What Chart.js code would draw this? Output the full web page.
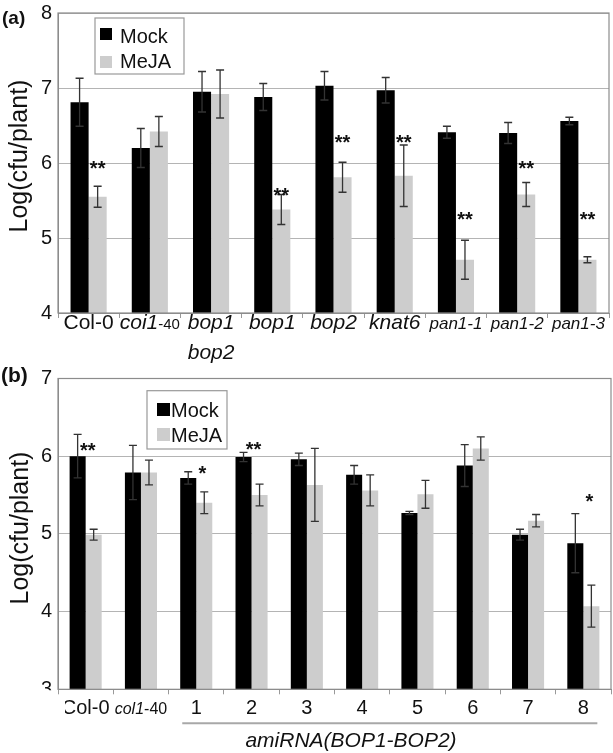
<!DOCTYPE html>
<html>
<head>
<meta charset="utf-8">
<script src="https://cdn.jsdelivr.net/npm/chart.js@4"></script>
<style>
  html, body { margin: 0; padding: 0; background: #fff; }
  #wa { position: absolute; left: 0; top: 0; width: 613px; height: 364px; }
  #wb { position: absolute; left: 0; top: 364px; width: 613px; height: 389px; }
</style>
</head>
<body>
<div id="wa"><canvas id="ca"></canvas></div>
<div id="wb"><canvas id="cb"></canvas></div>
<script>
// ---- Panel (a): bacterial growth, Mock vs MeJA pre-treatment ----
const genotypesA = ['Col-0', 'coi1-40', 'bop1 bop2', 'bop1', 'bop2', 'knat6', 'pan1-1', 'pan1-2', 'pan1-3'];
const mockA      = [6.81, 6.20, 6.95, 6.88, 7.03, 6.97, 6.41, 6.40, 6.56];
const mockErrA   = [0.32, 0.26, 0.27, 0.18, 0.19, 0.17, 0.08, 0.14, 0.05];
const mejaA      = [5.55, 6.42, 6.92, 5.38, 5.81, 5.83, 4.71, 5.58, 4.71];
const mejaErrA   = [0.14, 0.20, 0.32, 0.20, 0.20, 0.41, 0.26, 0.16, 0.04];
const sigA       = ['**', '', '', '**', '**', '**', '**', '**', '**'];
const sigLevelA  = [6.00, 0, 0, 5.64, 6.35, 6.35, 5.32, 6.00, 5.32];
const yTicksA    = [4, 5, 6, 7, 8];

// ---- Panel (b): amiRNA(BOP1-BOP2) lines ----
const genotypesB = ['Col-0', 'col1-40', '1', '2', '3', '4', '5', '6', '7', '8'];
const mockB      = [6.00, 5.79, 5.72, 5.99, 5.96, 5.76, 5.27, 5.88, 4.99, 4.88];
const mockErrB   = [0.28, 0.35, 0.08, 0.06, 0.08, 0.12, 0.02, 0.27, 0.07, 0.38];
const mejaB      = [4.99, 5.79, 5.40, 5.50, 5.63, 5.56, 5.51, 6.10, 5.17, 4.07];
const mejaErrB   = [0.07, 0.16, 0.14, 0.14, 0.47, 0.20, 0.18, 0.15, 0.08, 0.27];
const sigB       = ['**', '', '*', '**', '', '', '', '', '', '*'];
const sigLevelB  = [6.14, 0, 5.85, 6.16, 0, 0, 0, 0, 0, 5.49];
const yTicksB    = [3, 4, 5, 6, 7];
const groupLabelB = 'amiRNA(BOP1-BOP2)';

const seriesNames = ['Mock', 'MeJA'];
const seriesColors = ['#000000', '#cdcdcd'];

const FAM = '"Liberation Sans", Arial, Helvetica, sans-serif';
const fnt = (size, style) => (style ? style + ' ' : '') + size + 'px ' + FAM;

// Draw a line of text made of differently styled pieces, centred on cx.
function drawSegs(ctx, segs, cx, base) {
  let w = 0;
  segs.forEach(s => { ctx.font = s.font; w += ctx.measureText(s.text).width; });
  let x = cx - w / 2;
  ctx.textAlign = 'left';
  ctx.textBaseline = 'alphabetic';
  segs.forEach(s => { ctx.font = s.font; ctx.fillText(s.text, x, base); x += ctx.measureText(s.text).width; });
}

// Genotype names are italic; wild type and line numbers are upright; allele suffix is small.
function labelLinesA(label) {
  if (label === 'Col-0') return [[{ text: label, font: fnt(21) }]];
  if (label.endsWith('-40')) return [[{ text: label.slice(0, -3), font: fnt(21, 'italic') }, { text: '-40', font: fnt(15) }]];
  if (label.startsWith('pan1')) return [[{ text: label, font: fnt(17, 'italic') }]];
  return label.split(' ').map(w => [{ text: w, font: fnt(21, 'italic') }]);
}
function labelLinesB(label) {
  if (label.endsWith('-40')) return [[{ text: label.slice(0, -3), font: fnt(16, 'italic') }, { text: '-40', font: fnt(16) }]];
  return [[{ text: label, font: fnt(20) }]];
}

const panelPlugin = {
  id: 'panel',
  afterDraw(chart, args, o) {
    const { ctx, chartArea: ca, scales: { x, y } } = chart;
    ctx.save();

    // plot frame
    ctx.strokeStyle = '#8c8c8c';
    ctx.lineWidth = 1.2;
    ctx.strokeRect(ca.left, ca.top, ca.right - ca.left, ca.bottom - ca.top);

    // error bars
    ctx.strokeStyle = '#333';
    ctx.lineWidth = 1.3;
    chart.data.datasets.forEach((ds, d) => {
      const meta = chart.getDatasetMeta(d);
      meta.data.forEach((bar, i) => {
        const v = ds.data[i], e = ds.errors[i];
        const yt = y.getPixelForValue(v + e), yb = y.getPixelForValue(v - e);
        ctx.beginPath();
        ctx.moveTo(bar.x, yt); ctx.lineTo(bar.x, yb);
        ctx.moveTo(bar.x - 4, yt); ctx.lineTo(bar.x + 4, yt);
        ctx.moveTo(bar.x - 4, yb); ctx.lineTo(bar.x + 4, yb);
        ctx.stroke();
      });
    });

    // legend
    const L = o.legend;
    ctx.fillStyle = '#fff';
    ctx.fillRect(L.x, L.y, L.w, L.h);
    ctx.strokeStyle = '#999';
    ctx.lineWidth = 1.2;
    ctx.strokeRect(L.x, L.y, L.w, L.h);
    ctx.textAlign = 'left';
    ctx.textBaseline = 'alphabetic';
    seriesNames.forEach((nm, k) => {
      ctx.fillStyle = seriesColors[k];
      ctx.fillRect(L.sqX, L.sqY[k], L.sq, L.sq);
      ctx.fillStyle = '#111';
      ctx.font = fnt(20);
      ctx.fillText(nm, L.txX, L.txY[k]);
    });

    // significance marks
    ctx.fillStyle = '#111';
    ctx.font = fnt(20, 'bold');
    ctx.textAlign = 'center';
    ctx.textBaseline = 'alphabetic';
    const mMeja = chart.getDatasetMeta(1);
    o.sig.forEach((s, i) => {
      if (!s) return;
      const bx = mMeja.data[i].x + (o.starDx[s] || 0);
      ctx.fillText(s, bx, y.getPixelForValue(o.sigLevel[i]) + 12);
    });

    // y tick labels
    ctx.save();
    if (o.clipBottom) {
      ctx.beginPath();
      ctx.rect(0, 0, ca.left, ca.bottom + 1);
      ctx.clip();
    }
    ctx.fillStyle = '#111';
    ctx.font = fnt(20);
    ctx.textAlign = 'right';
    ctx.textBaseline = 'middle';
    o.yTicks.forEach(v => ctx.fillText(String(v), ca.left - 6, y.getPixelForValue(v)));
    ctx.restore();

    // x category labels
    ctx.save();
    if (o.labelLeft) {
      ctx.beginPath();
      ctx.rect(o.labelLeft, ca.bottom, chart.width, chart.height);
      ctx.clip();
    }
    ctx.fillStyle = '#111';
    chart.data.labels.forEach((lab, i) => {
      const cx = x.getPixelForValue(i);
      o.labelLines(lab).forEach((segs, li) => drawSegs(ctx, segs, cx, o.labelBase + li * o.lineGap));
    });
    ctx.restore();

    // y axis title
    ctx.save();
    ctx.translate(o.titleX, o.titleY);
    ctx.rotate(-Math.PI / 2);
    ctx.fillStyle = '#111';
    ctx.font = fnt(25);
    ctx.textAlign = 'center';
    ctx.textBaseline = 'alphabetic';
    ctx.fillText('Log(cfu/plant)', 0, 0);
    ctx.restore();

    // panel letter
    ctx.fillStyle = '#111';
    ctx.font = fnt(o.letterSize, 'bold');
    ctx.textAlign = 'left';
    ctx.textBaseline = 'alphabetic';
    ctx.fillText(o.letter, o.letterX, o.letterY);

    // grouping bracket under the amiRNA lines
    if (o.group) {
      const g = o.group;
      const x0 = x.getPixelForValue(g.from) - g.pad, x1 = x.getPixelForValue(g.to) + g.pad;
      ctx.strokeStyle = '#a8a8a8';
      ctx.lineWidth = 2;
      ctx.beginPath(); ctx.moveTo(x0, g.lineY); ctx.lineTo(x1, g.lineY); ctx.stroke();
      ctx.fillStyle = '#111';
      ctx.font = fnt(21, 'italic');
      ctx.textAlign = 'center';
      ctx.fillText(g.text, g.textX, g.textY);
    }
    ctx.restore();
  }
};

function makeChart(id, labels, mock, mockErr, meja, mejaErr, yMin, yMax, yTicks, catPct, padTop, padRight, xH, extra) {
  return new Chart(document.getElementById(id), {
    type: 'bar',
    data: {
      labels: labels,
      datasets: [
        { label: seriesNames[0], data: mock, errors: mockErr, backgroundColor: seriesColors[0] },
        { label: seriesNames[1], data: meja, errors: mejaErr, backgroundColor: seriesColors[1] }
      ]
    },
    options: {
      responsive: true,
      maintainAspectRatio: false,
      animation: false,
      layout: { padding: { top: padTop, right: padRight, left: 0, bottom: 0 } },
      datasets: { bar: { barPercentage: 1, categoryPercentage: catPct } },
      scales: {
        x: {
          ticks: { display: false },
          grid: { offset: true, drawOnChartArea: false, drawTicks: true, tickLength: 5, color: '#999' },
          border: { display: true, color: '#8c8c8c' },
          afterFit(s) { s.height = xH; }
        },
        y: {
          min: yMin, max: yMax,
          ticks: { display: false },
          afterBuildTicks(s) { s.ticks = yTicks.map(v => ({ value: v })); },
          grid: { color: '#b4b4b4', drawTicks: false },
          border: { display: true, color: '#8c8c8c' },
          afterFit(s) { s.width = 58; }
        }
      },
      plugins: {
        legend: { display: false },
        tooltip: { enabled: false },
        panel: extra
      }
    },
    plugins: [panelPlugin]
  });
}

makeChart('ca', genotypesA, mockA, mockErrA, mejaA, mejaErrA, 4, 8, yTicksA, 0.59, 13, 4, 51, {
  sig: sigA, sigLevel: sigLevelA, starDx: {}, yTicks: yTicksA, clipBottom: false,
  labelLines: labelLinesA, labelBase: 329, lineGap: 30, labelLeft: 0,
  titleX: 27, titleY: 156,
  letter: '(a)', letterSize: 19, letterX: 2, letterY: 24,
  legend: { x: 95, y: 18, w: 89, h: 56, sq: 12, sqX: 100, sqY: [28, 56], txX: 120, txY: [43, 68] }
});

makeChart('cb', genotypesB, mockB, mockErrB, mejaB, mejaErrB, 3, 7, yTicksB, 0.58, 14.5, 2, 63.7, {
  sig: sigB, sigLevel: sigLevelB, starDx: { '**': -6, '*': -2 }, yTicks: yTicksB, clipBottom: true,
  labelLines: labelLinesB, labelBase: 350, lineGap: 0, labelLeft: 65,
  titleX: 28, titleY: 164,
  letter: '(b)', letterSize: 21, letterX: 1, letterY: 18,
  legend: { x: 147, y: 26.7, w: 80, h: 58.3, sq: 13, sqX: 157, sqY: [39, 64], txX: 171, txY: [52.7, 77.7] },
  group: { from: 2, to: 9, pad: 14, lineY: 359.3, text: groupLabelB, textX: 351, textY: 383 }
});
</script>
</body>
</html>
